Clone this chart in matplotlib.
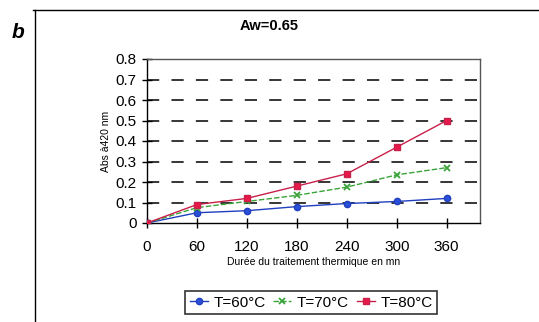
import matplotlib.pyplot as plt
from matplotlib.lines import Line2D

plt.rcParams['font.family'] = ['Liberation Sans', 'DejaVu Sans']

# durée du traitement (mn)
durees = [0, 60, 120, 180, 240, 300, 360]
abs_60 = [0, 0.05, 0.06, 0.08, 0.095, 0.105, 0.12]
abs_70 = [0, 0.075, 0.105, 0.135, 0.175, 0.235, 0.27]
abs_80 = [0, 0.09, 0.12, 0.18, 0.24, 0.37, 0.50]
labels = ['T=60°C', 'T=70°C', 'T=80°C']
yticks = [0, 0.1, 0.2, 0.3, 0.4, 0.5, 0.6, 0.7, 0.8]

fig = plt.figure(figsize=(5.39, 3.22), dpi=100)
ax = fig.add_axes([147/539, 1 - 223/322, 333/539, 164/322])

for y in yticks[1:-1]:
    ax.axhline(y, color='black', lw=1.1, dashes=(8, 8), zorder=1)

ax.plot(durees, abs_60, color='#1f3fbf', lw=1, marker='o', ms=4.5,
        mfc='#2a4fd8', mec='#1f3fbf', label=labels[0], zorder=3)
ax.plot(durees, abs_70, color='#3aa33a', lw=1, ls=(0, (4, 1.5)), marker='x', ms=5,
        mew=1.3, label=labels[1], zorder=3)
ax.plot(durees, abs_80, color='#c8204a', lw=1, marker='s', ms=5,
        mfc='#e8194a', mec='#c8204a', label=labels[2], zorder=4)

ax.set_xlim(0, 400)
ax.set_ylim(0, 0.8)
ax.set_xticks(durees)
ax.set_yticks(yticks)
ax.set_yticklabels(['0', '0.1', '0.2', '0.3', '0.4', '0.5', '0.6', '0.7', '0.8'])
ax.tick_params(direction='inout', length=7, width=1, labelsize=11)
ax.tick_params(axis='x', pad=9)
ax.tick_params(axis='y', pad=4)
for s in ax.spines.values():
    s.set_color('#555555')
    s.set_linewidth(1)
ax.spines['left'].set_color('black')
ax.spines['bottom'].set_color('black')

ax.set_xlabel('Durée du traitement thermique en mn', fontsize=7.5, labelpad=2)
ax.set_ylabel('Abs à420 nm', fontsize=7.5, labelpad=3)

fig.text(269/539, 1 - 26/322, 'Aw=0.65', fontsize=10.5, fontweight='bold',
         ha='center', va='center')
fig.text(18/539, 1 - 33/322, 'b', fontsize=15, fontweight='bold', style='italic',
         ha='center', va='center')

# cadre extérieur
fig.add_artist(Line2D([33/539, 1.0], [1 - 10/322, 1 - 10/322], color='black', lw=1))
fig.add_artist(Line2D([35/539, 35/539], [1 - 10/322, 0], color='black', lw=1))

leg = fig.legend(loc='upper left', bbox_to_anchor=(185/539, 1 - 291/322), ncol=3,
                 fontsize=11, frameon=True, fancybox=False, edgecolor='black',
                 handlelength=1.2, handletextpad=0.35, columnspacing=0.5,
                 borderpad=0.3, borderaxespad=0)
leg.get_frame().set_linewidth(1.2)

fig.savefig('out.png', dpi=100)
